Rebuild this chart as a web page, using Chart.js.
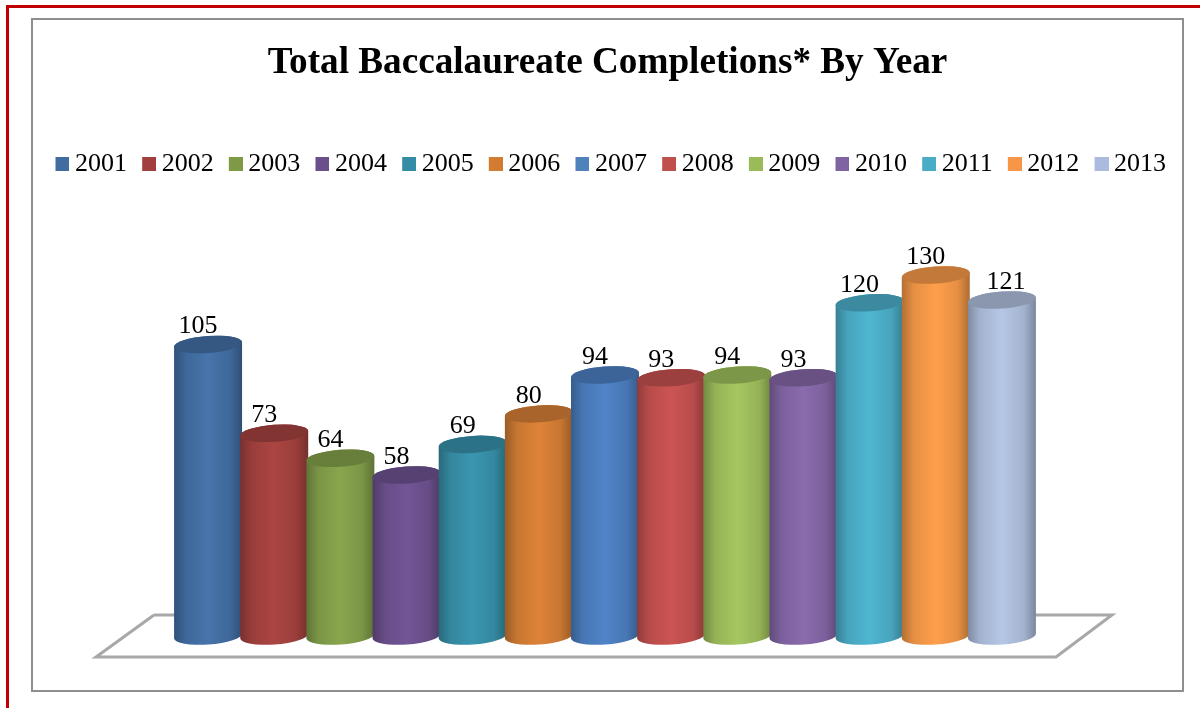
<!DOCTYPE html>
<html><head><meta charset="utf-8">
<script src="https://cdn.jsdelivr.net/npm/chart.js@4"></script>
<style>
html,body{margin:0;padding:0;background:#fff;width:1200px;height:708px;overflow:hidden}
#red{position:absolute;left:6px;top:5px;width:1200px;height:710px;border-left:3px solid #c00000;border-top:3px solid #c00000;box-sizing:border-box}
#frame{position:absolute;left:31px;top:18px;width:1153px;height:674px;border:2px solid #8e8e8e;box-sizing:border-box;background:#fff}
canvas{display:block}
</style></head><body>
<div id="red"></div>
<div id="frame"><canvas id="c" width="1149" height="670"></canvas></div>
<script>
const chartTitle = 'Total Baccalaureate Completions* By Year';
const categories = ['Completions'];
const years = ['2001','2002','2003','2004','2005','2006','2007','2008','2009','2010','2011','2012','2013'];
const completions = [105,73,64,58,69,80,94,93,94,93,120,130,121];
const legendColors = ['#416c9f','#a03f3d','#7f9a47','#6a4f8b','#348ca5','#d37c31','#4f81bd','#c0504d','#9bbb59','#8064a2','#4bacc6','#f79646','#aabbdd'];
const bodyColors = ['#4674ab','#ab4542','#89a64e','#725596','#3a96b0','#dd8338','#4f84c8','#cc5452','#a5c760','#8a6bad','#4fb6d2','#ff9f4b','#b5c7e6'];
const serif = '"Liberation Serif","Times New Roman",serif';

function shade(hex, k){
  const n = parseInt(hex.slice(1),16);
  const f = v => Math.round(v*k);
  return `rgb(${f(n>>16&255)},${f(n>>8&255)},${f(n&255)})`;
}
function swatch(color){
  const s = document.createElement('canvas'); s.width = 16; s.height = 14;
  const g = s.getContext('2d'); g.fillStyle = color; g.fillRect(2,0,14,14);
  return s;
}
const swatches = legendColors.map(swatch);

const cylinders = {
  id:'cylinders',
  afterLayout(chart){ chart.legend.left += 6; chart.legend.right += 6; },
  beforeDatasetDraw(){ return false; },
  afterDatasetsDraw(chart){
    const ctx = chart.ctx, a = chart.chartArea, base = chart.scales.y.getPixelForValue(0);
    ctx.save();
    // floor
    ctx.strokeStyle = '#a8a8a8'; ctx.lineWidth = 3; ctx.lineJoin = 'miter';
    ctx.beginPath();
    ctx.moveTo(a.left-21, base-21);
    ctx.lineTo(a.left-79, base+21);
    ctx.lineTo(a.right+21, base+21);
    ctx.lineTo(a.right+77, base-21);
    ctx.lineTo(a.right-30, base-21);
    ctx.moveTo(a.left-21, base-21);
    ctx.lineTo(a.left+30, base-21);
    ctx.stroke();
    const rot = -4*Math.PI/180, ry = 8.5;
    chart.data.datasets.forEach((ds,i)=>{
      const el = chart.getDatasetMeta(i).data[0];
      const cx = el.x, top = el.y, bot = el.base, rx = el.width/2;
      const col = bodyColors[i];
      const g = ctx.createLinearGradient(cx-rx,0,cx+rx,0);
      g.addColorStop(0, shade(col,.70));
      g.addColorStop(.18, shade(col,.90));
      g.addColorStop(.5, col);
      g.addColorStop(.82, shade(col,.90));
      g.addColorStop(1, shade(col,.68));
      ctx.fillStyle = g;
      ctx.beginPath();
      ctx.ellipse(cx,bot,rx,ry,rot,0,Math.PI);
      ctx.ellipse(cx,top,rx,ry,rot,Math.PI,2*Math.PI);
      ctx.closePath();
      ctx.fill();
      ctx.fillStyle = shade(col,.76);
      ctx.beginPath();
      ctx.ellipse(cx,top,rx,ry,rot,0,2*Math.PI);
      ctx.fill();
    });
    // value labels
    ctx.fillStyle = '#000'; ctx.font = '26px '+serif;
    ctx.textAlign = 'center'; ctx.textBaseline = 'middle';
    chart.data.datasets.forEach((ds,i)=>{
      const el = chart.getDatasetMeta(i).data[0];
      const dx = i === chart.data.datasets.length-1 ? 4 : -10;
      ctx.fillText(String(ds.data[0]), el.x+dx, el.y-18);
    });
    ctx.restore();
  }
};

new Chart(document.getElementById('c'),{
  type:'bar',
  data:{
    labels:categories,
    datasets:years.map((y,i)=>({label:y,data:[completions[i]],backgroundColor:legendColors[i],
      barPercentage:1.03,categoryPercentage:1}))
  },
  plugins:[cylinders],
  options:{
    responsive:false,animation:false,
    layout:{padding:0},
    scales:{
      x:{ticks:{display:false},grid:{display:false},border:{display:false},
         afterFit(s){s.height=54;}},
      y:{min:0,max:161.6,position:'left',ticks:{display:false},grid:{display:false},border:{display:false},
         afterFit(s){s.width=142;}},
      y2:{position:'right',ticks:{display:false},grid:{display:false},border:{display:false},
         afterFit(s){s.width=147;}}
    },
    plugins:{
      tooltip:{enabled:false},
      title:{display:true,text:chartTitle,color:'#000',font:{family:serif,size:37.2,weight:'bold'},padding:{top:21,bottom:45}},
      legend:{position:'top',labels:{
        color:'#000',font:{family:serif,size:26},padding:20.67,usePointStyle:true,pointStyleWidth:1,boxHeight:14,
        generateLabels(chart){
          return chart.data.datasets.map((d,i)=>({text:d.label,fillStyle:legendColors[i],strokeStyle:legendColors[i],
            lineWidth:0,hidden:false,datasetIndex:i,pointStyle:swatches[i],fontColor:'#000'}));
        }
      }}
    }
  }
});
</script>
</body></html>
